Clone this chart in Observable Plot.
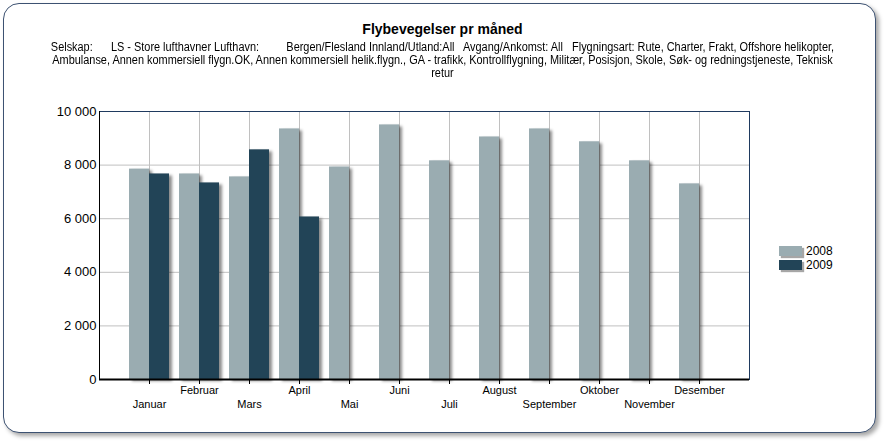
<!DOCTYPE html>
<html><head><meta charset="utf-8">
<script src="https://cdn.jsdelivr.net/npm/d3@7"></script>
<script src="https://cdn.jsdelivr.net/npm/@observablehq/plot@0.6"></script>
<style>
body{margin:0;background:#fff;width:885px;height:444px;overflow:hidden;font-family:"Liberation Sans",Arial,sans-serif;position:relative}
#card{position:absolute;left:3px;top:3px;width:871px;height:428px;border:1.5px solid #3d5272;border-radius:16px;box-shadow:3px 3px 4px rgba(0,0,0,0.35);background:#fff}
#title{position:absolute;top:21px;left:0;width:885px;text-align:center;font-weight:bold;font-size:14px;color:#000}
#sub{position:absolute;top:41px;left:0;width:885px;text-align:center;font-size:12px;line-height:13px;white-space:pre;color:#000;transform:scaleX(0.91);transform-origin:442px 0}
#chart{position:absolute;left:0;top:90px}
#legend{position:absolute;left:779px;top:244px;font-size:12px;line-height:14px}
#legend .row{display:flex;align-items:center;height:14px}
#legend .sw{width:23px;height:10px;margin-right:4px;box-shadow:2px 2px 1px rgba(0,0,0,0.35)}
</style>
</head><body>
<div id="card"></div>
<div id="title"></div>
<div id="sub"></div>
<div id="chart"></div>
<div id="legend"></div>
<script>
const titleText = "Flybevegelser pr måned";
const subtitleLines = [
  "Selskap:      LS - Store lufthavner Lufthavn:         Bergen/Flesland Innland/Utland:All   Avgang/Ankomst: All   Flygningsart: Rute, Charter, Frakt, Offshore helikopter,",
  "Ambulanse, Annen kommersiell flygn.OK, Annen kommersiell helik.flygn., GA - trafikk, Kontrollflygning, Militær, Posisjon, Skole, Søk- og redningstjeneste, Teknisk",
  "retur"
];
const months = ["Januar","Februar","Mars","April","Mai","Juni","Juli","August","September","Oktober","November","Desember"];
const values2008 = [7850, 7670, 7560, 9350, 7930, 9500, 8160, 9050, 9350, 8870, 8160, 7300];
const values2009 = [7670, 7335, 8570, 6065];
const years = ["2008", "2009"];
const colors = ["#9aacb1", "#224457"];
const yTicks = [0, 2000, 4000, 6000, 8000, 10000];

document.getElementById("title").textContent = titleText;
document.getElementById("sub").textContent = subtitleLines.join("\n");

const d2008 = months.map((m, i) => ({month: m, year: years[0], value: values2008[i]}));
const d2009 = values2009.map((v, i) => ({month: months[i], year: years[1], value: v}));
const labelsUpper = months.filter((m, i) => i % 2 === 1);
const labelsLower = months.filter((m, i) => i % 2 === 0);

const loc = d3.formatLocale({decimal: ",", thousands: " ", grouping: [3], currency: ["", ""]});
const fmt = loc.format(",d");

const plot = Plot.plot({
  width: 885,
  height: 329,
  marginLeft: 99,
  marginRight: 136,
  marginTop: 21,
  marginBottom: 40,
  style: {fontFamily: "'Liberation Sans', Arial, sans-serif", fontSize: "13px", color: "#000", background: "transparent"},
  x: {type: "band", domain: months, paddingInner: 0.2, paddingOuter: 0.6, tickSize: 5, tickFormat: () => "", label: null},
  y: {domain: [0, 10000], ticks: yTicks, tickFormat: fmt, tickSize: 0, tickPadding: 3, label: null},
  color: {domain: years, range: colors},
  marks: [
    Plot.ruleY(yTicks, {stroke: "#c0c0c0"}),
    Plot.ruleX(months, {stroke: "#c0c0c0"}),
    Plot.barY(d2008, {x: "month", y: "value", fill: "year", insetRight: 20}),
    Plot.barY(d2009, {x: "month", y: "value", fill: "year", insetLeft: 20}),
    Plot.frame({stroke: "#1f3a5f"}),
    Plot.ruleX([months[0]], {dx: -50, stroke: "#000"}),
    Plot.ruleY([0], {stroke: "#000", strokeWidth: 2}),
    Plot.text(labelsUpper, {x: d => d, text: d => d, frameAnchor: "bottom", dy: 14, fontSize: 11}),
    Plot.text(labelsLower, {x: d => d, text: d => d, frameAnchor: "bottom", dy: 28, fontSize: 11})
  ]
});
d3.select(plot).selectAll("g[aria-label='bar']").style("filter", "drop-shadow(3px 2px 1.5px rgba(0,0,0,0.45))");
document.getElementById("chart").appendChild(plot);

const leg = d3.select("#legend");
years.forEach((y, i) => {
  const r = leg.append("div").attr("class", "row");
  r.append("div").attr("class", "sw").style("background", colors[i]);
  r.append("span").text(y);
});
</script>
</body></html>
